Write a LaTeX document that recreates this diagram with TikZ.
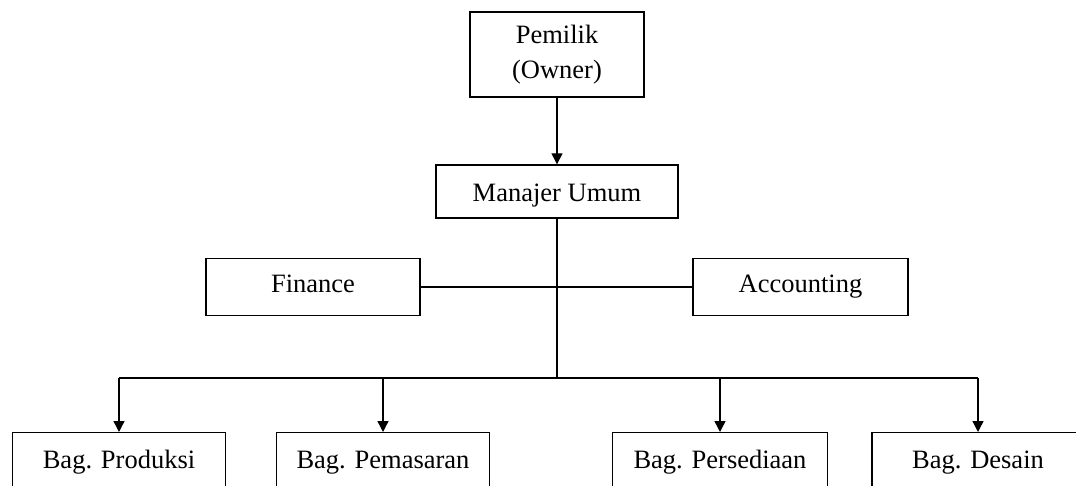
\documentclass[tikz,border=0pt]{standalone}
\usepackage{fontspec}
\setmainfont{Liberation Serif}
\usetikzlibrary{arrows.meta}
\begin{document}
\begin{tikzpicture}[x=1pt,y=-1pt,
  plainbox/.style={draw, line width=1.4pt, rectangle, inner sep=0pt, align=center,
    font=\fontsize{26.5}{35}\selectfont},
  box/.style={plainbox, text height=18pt, text depth=6pt},
  lowbox/.style={box, anchor=north, minimum width=213pt, text height=36pt, text depth=30pt},
  conn/.style={line width=1.4pt},
  arr/.style={conn, -{Triangle[length=11pt,width=11pt]}}]
\useasboundingbox (0,0) rectangle (1076,486);
\clip (0,0) rectangle (1076,486);
\node[plainbox, minimum width=174pt, minimum height=85pt] (own) at (557,54.5) {Pemilik\\(Owner)};
\node[box, minimum width=242pt, minimum height=53pt, text height=20pt, text depth=0pt] (mgr) at (557,191.5) {Manajer Umum};
\node[box, minimum width=214pt, minimum height=57pt] (fin) at (313,287) {Finance};
\node[box, minimum width=215pt, minimum height=57pt] (acc) at (800.5,287) {Accounting};
\node[lowbox] (prod) at (119,432) {Bag. Produksi};
\node[lowbox] (pem) at (383,432) {Bag. Pemasaran};
\node[lowbox, minimum width=215pt] (pers) at (720,432) {Bag. Persediaan};
\node[lowbox, minimum width=212pt] (des) at (978,432) {Bag. Desain};
\coordinate (bus) at (557,378);
\draw[arr] (own.south) -- (mgr.north);
\draw[conn] (mgr.south) -- (bus);
\draw[conn] (fin.east) -- (acc.west);
\draw[conn] (prod.north |- bus) -- (des.north |- bus);
\draw[arr] (prod.north |- bus) -- (prod.north);
\draw[arr] (pem.north |- bus) -- (pem.north);
\draw[arr] (pers.north |- bus) -- (pers.north);
\draw[arr] (des.north |- bus) -- (des.north);
\end{tikzpicture}
\end{document}
